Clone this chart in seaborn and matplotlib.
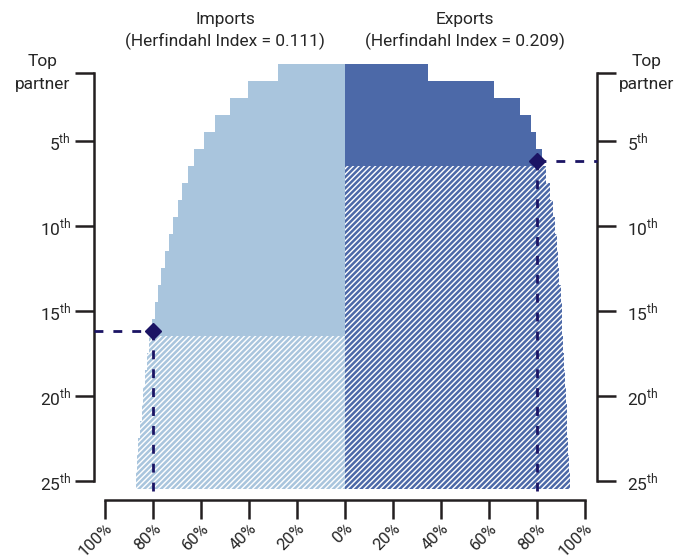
import numpy as np
import pandas as pd
import seaborn as sns
import matplotlib.pyplot as plt
from matplotlib.transforms import ScaledTranslation

# cumulative share of trade covered by the top-N partners (%)
ranks = list(range(1, 26))
imports_share = [27.8, 40.3, 47.9, 54.0, 58.6, 62.8, 65.3, 67.8, 69.7, 71.5, 73.3, 74.9, 76.7,
                 78.0, 79.2, 80.3, 81.8, 82.6, 83.3, 84.1, 84.8, 85.5, 86.1, 86.7, 87.3]
exports_share = [34.4, 62.1, 72.9, 77.5, 79.7, 82.1, 83.8, 85.4, 86.5, 87.5, 88.2, 88.6, 89.2,
                 89.8, 90.3, 90.6, 91.0, 91.4, 91.8, 92.1, 92.4, 92.7, 93.0, 93.4, 93.8]
imports_cutoff = 16   # partners needed to reach 80%
exports_cutoff = 6
marker_rank = {"imports": 16.2, "exports": 6.2}
threshold = 80

titles = ["Imports\n(Herfindahl Index = 0.111)", "Exports\n(Herfindahl Index = 0.209)"]
x_ticks = [-100, -80, -60, -40, -20, 0, 20, 40, 60, 80, 100]
x_labels = ["100%", "80%", "60%", "40%", "20%", "0%", "20%", "40%", "60%", "80%", "100%"]
y_ticks = [1, 5, 10, 15, 20, 25]
y_labels = ["", r"5$^{\rm th}$", r"10$^{\rm th}$", r"15$^{\rm th}$", r"20$^{\rm th}$", r"25$^{\rm th}$"]

light = "#A9C5DD"
dark = "#4C69A8"
navy = "#1B1464"
ink = "#231F20"

sns.set_style("white")
plt.rcParams["font.family"] = ["Roboto", "DejaVu Sans"]
plt.rcParams["mathtext.fontset"] = "custom"
plt.rcParams["mathtext.rm"] = "Roboto"
plt.rcParams["hatch.linewidth"] = 1.8

df = pd.DataFrame({"rank": ranks, "imports": imports_share, "exports": exports_share})
df["imports_neg"] = -df["imports"]

fig = plt.figure(figsize=(6.81, 5.6), dpi=100)
ax = fig.add_axes([94 / 681, 1 - 489 / 560, 503 / 681, 425 / 560])


def bars(sub, col, color, hatched):
    n0 = len(ax.patches)
    sns.barplot(data=sub, x=col, y="rank", orient="h", native_scale=True, width=1,
                color=color, saturation=1, ax=ax)
    for p in ax.patches[n0:]:
        p.set_linewidth(0)
        if hatched:
            p.set_facecolor("white")
            p.set_edgecolor(color)
            p.set_hatch("//////")


bars(df[df["rank"] <= imports_cutoff], "imports_neg", light, False)
bars(df[df["rank"] > imports_cutoff], "imports_neg", light, True)
bars(df[df["rank"] <= exports_cutoff], "exports", dark, False)
bars(df[df["rank"] > exports_cutoff], "exports", dark, True)

x_left, x_right = -104.6, 105
ax.set_xlim(x_left, x_right)
ax.set_ylim(25.5, 0.5)

# 80% guide lines and markers
y_axis = 25.5 + 12 / 17
dash = dict(color=navy, lw=2, dashes=(3.2, 3.6), clip_on=False, zorder=4)
ax.plot([x_left, -threshold], [marker_rank["imports"]] * 2, **dash)
ax.plot([-threshold, -threshold], [marker_rank["imports"], y_axis], **dash)
ax.plot([threshold, x_right], [marker_rank["exports"]] * 2, **dash)
ax.plot([threshold, threshold], [marker_rank["exports"], y_axis], **dash)
ax.plot([-threshold, threshold], [marker_rank["imports"], marker_rank["exports"]],
        ls="none", marker="D", ms=8.5, color=navy, zorder=5, clip_on=False)

# axes styling
for s in ["left", "right", "bottom"]:
    ax.spines[s].set_visible(True)
    ax.spines[s].set_color(ink)
    ax.spines[s].set_linewidth(1.8)
ax.spines["top"].set_visible(False)
ax.spines["left"].set_bounds(1, 25)
ax.spines["right"].set_bounds(1, 25)
ax.spines["bottom"].set_bounds(-100, 100)
ax.spines["bottom"].set_position(("outward", 8))

ax.set_yticks(y_ticks)
ax.set_yticklabels(y_labels)
ax.set_xticks(x_ticks)
ax.set_xticklabels(x_labels, rotation=45, ha="right", rotation_mode="anchor")
ax.tick_params(axis="y", left=True, right=True, labelleft=True, labelright=True,
               length=13.5, width=1.8, color=ink, labelsize=12.5, pad=3)
ax.tick_params(axis="x", bottom=True, length=13.5, width=1.8, color=ink, labelsize=12, pad=1)
ax.set_xlabel("")
ax.set_ylabel("")

# right-hand labels sit a little further from their ticks
for t in ax.yaxis.get_major_ticks():
    t.label2.set_transform(t.label2.get_transform() + ScaledTranslation(5 / 72, 0, fig.dpi_scale_trans))

for xc, t in zip([-50, 50], titles):
    ax.text(xc, -0.3, t, ha="center", va="bottom", fontsize=12.5, linespacing=1.45,
            transform=ax.transData, clip_on=False)

for fx in [43 / 681, 647 / 681]:
    fig.text(fx, 1 - 73 / 560, "Top\npartner", ha="center", va="center", fontsize=12.5,
             linespacing=1.6)

fig.savefig("out.png", dpi=100)
